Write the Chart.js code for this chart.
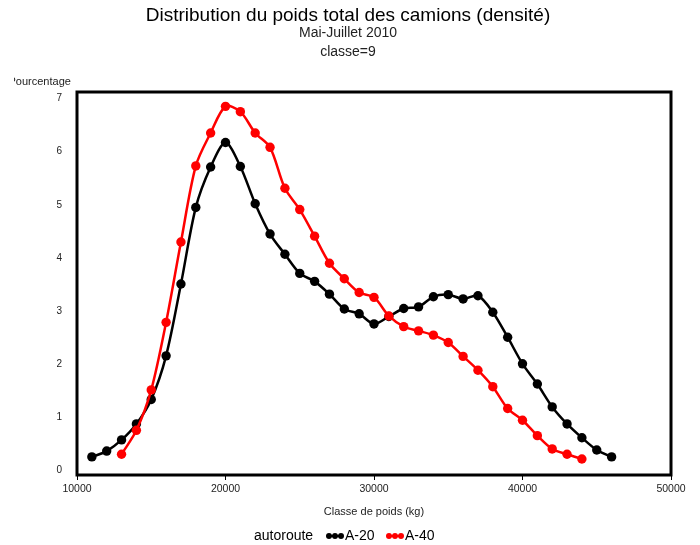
<!DOCTYPE html>
<html>
<head>
<meta charset="utf-8">
<script src="https://cdn.jsdelivr.net/npm/chart.js@4.4.0/dist/chart.umd.min.js"></script>
<style>
    html, body { margin: 0; padding: 0; background: #fff; }
    canvas { display: block; }
</style>
</head>
<body>
<canvas id="densityChart" width="700" height="545"></canvas>
<script>
(function () {
    'use strict';

    // weight classes (kg) and density (%) per highway
    const a20Weights = [11000, 12000, 13000, 14000, 15000, 16000, 17000, 18000, 19000, 20000,
        21000, 22000, 23000, 24000, 25000, 26000, 27000, 28000, 29000, 30000,
        31000, 32000, 33000, 34000, 35000, 36000, 37000, 38000, 39000, 40000,
        41000, 42000, 43000, 44000, 45000, 46000];
    const a20Values = [0.26, 0.37, 0.58, 0.88, 1.34, 2.16, 3.51, 4.95, 5.71, 6.17,
        5.72, 5.02, 4.45, 4.07, 3.71, 3.56, 3.32, 3.04, 2.95, 2.76,
        2.90, 3.05, 3.08, 3.27, 3.31, 3.23, 3.29, 2.98, 2.51, 2.01,
        1.63, 1.20, 0.88, 0.62, 0.39, 0.26];

    const a40Weights = [13000, 14000, 15000, 16000, 17000, 18000, 19000, 20000, 21000, 22000,
        23000, 24000, 25000, 26000, 27000, 28000, 29000, 30000, 31000, 32000,
        33000, 34000, 35000, 36000, 37000, 38000, 39000, 40000, 41000, 42000,
        43000, 44000];
    const a40Values = [0.31, 0.76, 1.52, 2.79, 4.30, 5.73, 6.35, 6.85, 6.75, 6.35,
        6.08, 5.31, 4.91, 4.41, 3.90, 3.61, 3.35, 3.26, 2.91, 2.71,
        2.63, 2.55, 2.41, 2.15, 1.89, 1.58, 1.17, 0.95, 0.66, 0.41,
        0.31, 0.22];

    const xTicks = [10000, 20000, 30000, 40000, 50000];
    const yTicks = [0, 1, 2, 3, 4, 5, 6, 7];

    const titleText = 'Distribution du poids total des camions (densité)';
    const subtitleLines = ['Mai-Juillet 2010', 'classe=9'];
    const yTitle = 'Pourcentage';
    const xTitle = 'Classe de poids (kg)';
    const legendTitle = 'autoroute';
    const seriesNames = ['A-20', 'A-40'];
    const seriesColors = ['#000000', '#ff0000'];

    const FONT = '"Liberation Sans", Arial, sans-serif';

    const toPoints = (xs, ys) => xs.map((x, i) => ({ x: x, y: ys[i] }));

    function legendSymbol(ctx, x, y, color) {
        ctx.save();
        ctx.strokeStyle = color;
        ctx.fillStyle = color;
        ctx.lineWidth = 2;
        ctx.beginPath();
        ctx.moveTo(x, y);
        ctx.lineTo(x + 16, y);
        ctx.stroke();
        [x + 2, x + 8, x + 14].forEach(cx => {
            ctx.beginPath();
            ctx.arc(cx, y, 3, 0, Math.PI * 2);
            ctx.fill();
        });
        ctx.restore();
    }

    const decorations = {
        id: 'decorations',
        afterDatasetsDraw(chart) {
            const ctx = chart.ctx;
            const area = chart.chartArea;

            // frame around plot area
            ctx.save();
            ctx.strokeStyle = '#000';
            ctx.lineWidth = 3;
            ctx.strokeRect(area.left, area.top, area.right - area.left, area.bottom - area.top);
            ctx.restore();
        },
        afterDraw(chart) {
            const ctx = chart.ctx;
            const area = chart.chartArea;
            const cx = 348;

            ctx.save();
            ctx.fillStyle = '#000';
            ctx.textAlign = 'center';
            ctx.textBaseline = 'middle';

            ctx.font = '19px ' + FONT;
            ctx.fillText(titleText, cx, 16);
            ctx.fillStyle = '#222';
            ctx.font = '14px ' + FONT;
            ctx.fillText(subtitleLines[0], cx, 33);
            ctx.fillText(subtitleLines[1], cx, 52);

            // y title, cut on its left side like the original
            ctx.save();
            ctx.beginPath();
            ctx.rect(14, 60, 100, 40);
            ctx.clip();
            ctx.font = '11px ' + FONT;
            ctx.textAlign = 'left';
            ctx.fillText(yTitle, 8.5, 82);
            ctx.restore();

            ctx.textAlign = 'center';
            ctx.font = '11px ' + FONT;
            ctx.fillText(xTitle, (area.left + area.right) / 2, 512);

            // legend
            ctx.font = '14px ' + FONT;
            ctx.textAlign = 'left';
            ctx.fillStyle = '#000';
            ctx.fillText(legendTitle, 254, 536);
            legendSymbol(ctx, 327, 536, seriesColors[0]);
            ctx.fillText(seriesNames[0], 345, 536);
            legendSymbol(ctx, 387, 536, seriesColors[1]);
            ctx.fillText(seriesNames[1], 405, 536);
            ctx.restore();
        }
    };

    function initializeChart() {
        const ctx = document.getElementById('densityChart');

        const seriesStyle = {
            borderWidth: 2.5,
            pointRadius: 4.7,
            pointHoverRadius: 4.7,
            pointBorderWidth: 0,
            tension: 0.3
        };

        new Chart(ctx, {
            type: 'line',
            data: {
                datasets: [
                    Object.assign({
                        label: seriesNames[0],
                        data: toPoints(a20Weights, a20Values),
                        borderColor: seriesColors[0],
                        backgroundColor: seriesColors[0],
                        order: 2
                    }, seriesStyle),
                    Object.assign({
                        label: seriesNames[1],
                        data: toPoints(a40Weights, a40Values),
                        borderColor: seriesColors[1],
                        backgroundColor: seriesColors[1],
                        order: 1
                    }, seriesStyle)
                ]
            },
            options: {
                responsive: false,
                animation: false,
                layout: {
                    padding: { top: 92, right: 29, left: 0, bottom: 0 }
                },
                plugins: {
                    legend: { display: false },
                    title: { display: false },
                    tooltip: { enabled: false }
                },
                scales: {
                    x: {
                        type: 'linear',
                        min: 10000,
                        max: 50000,
                        afterFit: scale => { scale.height = 70; },
                        afterBuildTicks: scale => { scale.ticks = xTicks.map(v => ({ value: v })); },
                        border: { display: false },
                        grid: {
                            drawOnChartArea: false,
                            drawTicks: true,
                            tickLength: 5,
                            color: '#000'
                        },
                        ticks: {
                            padding: 3,
                            color: '#222',
                            maxRotation: 0,
                            font: { family: FONT, size: 10.5 },
                            callback: value => String(value)
                        }
                    },
                    y: {
                        min: -0.08,
                        max: 7.12,
                        afterFit: scale => { scale.width = 77; },
                        afterBuildTicks: scale => { scale.ticks = yTicks.map(v => ({ value: v })); },
                        border: { display: false },
                        grid: { display: false },
                        ticks: {
                            padding: 7,
                            color: '#222',
                            font: { family: FONT, size: 10 }
                        }
                    }
                }
            },
            plugins: [decorations]
        });
    }

    initializeChart();
})();
</script>
</body>
</html>
